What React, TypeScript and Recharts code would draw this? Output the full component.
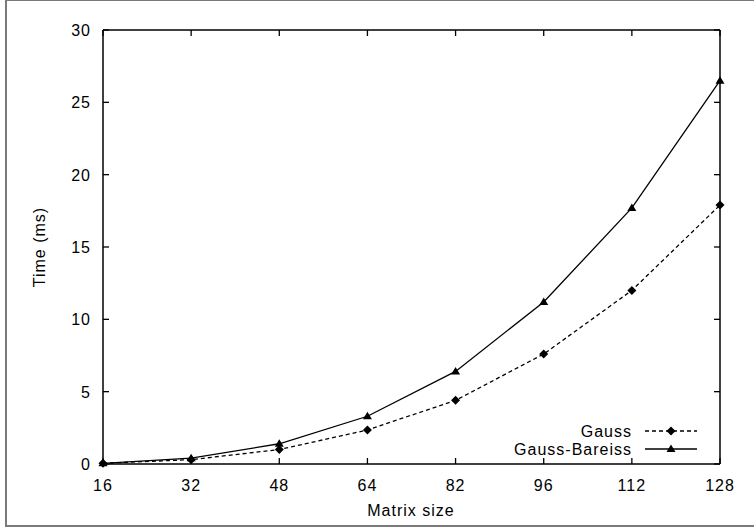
import React from "react";
import { Customized, Line, LineChart, XAxis, YAxis } from "recharts";

const sizes = ["16", "32", "48", "64", "82", "96", "112", "128"];
const gauss = [0.05, 0.3, 1.0, 2.35, 4.4, 7.6, 12.0, 17.9];
const bareiss = [0.05, 0.4, 1.4, 3.3, 6.4, 11.2, 17.7, 26.5];
const yTicks = [0, 5, 10, 15, 20, 25, 30];

const data = sizes.map((size, i) => ({ size, gauss: gauss[i], bareiss: bareiss[i] }));

const FONT = "'Liberation Sans', Arial, Helvetica, sans-serif";
const textStyle = { fontFamily: FONT, fontSize: 16, letterSpacing: 1, fill: "#000" };

function Diamond({ cx, cy }: any) {
  if (cx == null || cy == null) return null;
  return <path d={`M${cx},${cy - 4.5}L${cx + 4.5},${cy}L${cx},${cy + 4.5}L${cx - 4.5},${cy}Z`} fill="#000" />;
}

function Triangle({ cx, cy }: any) {
  if (cx == null || cy == null) return null;
  return <path d={`M${cx},${cy - 4.5}L${cx + 4.5},${cy + 3}L${cx - 4.5},${cy + 3}Z`} fill="#000" />;
}

const BottomTick = ({ x, y, payload }: any) => (
  <g>
    <line x1={x} y1={y} x2={x} y2={y - 6} stroke="#000" strokeWidth={1.3} />
    <text x={x} y={y + 27} textAnchor="middle" style={textStyle}>
      {payload.value}
    </text>
  </g>
);

const LeftTick = ({ x, y, payload }: any) => (
  <g>
    <line x1={x} y1={y} x2={x + 6} y2={y} stroke="#000" strokeWidth={1.3} />
    <text x={x - 12} y={y + 6} textAnchor="end" style={textStyle}>
      {payload.value}
    </text>
  </g>
);

// frame, mirrored ticks, titles and key, drawn from the chart's own offset
function Decorations(props: any) {
  const off = props.offset || { left: 103, top: 30, width: 617, height: 434 };
  const left = off.left;
  const top = off.top;
  const right = off.left + off.width;
  const bottom = off.top + off.height;
  const step = off.width / (sizes.length - 1);
  const yStep = off.height / (yTicks.length - 1);
  return (
    <g>
      <line x1={left} y1={top} x2={right} y2={top} stroke="#000" strokeWidth={1.5} />
      <line x1={right} y1={top} x2={right} y2={bottom} stroke="#000" strokeWidth={1.5} />
      {sizes.map((s, i) => (
        <line key={s} x1={left + i * step} y1={top} x2={left + i * step} y2={top + 6} stroke="#000" strokeWidth={1.3} />
      ))}
      {yTicks.map((t, i) => (
        <line key={t} x1={right} y1={bottom - i * yStep} x2={right - 6} y2={bottom - i * yStep} stroke="#000" strokeWidth={1.3} />
      ))}
      <text x={45} y={247} transform="rotate(-90 45 247)" textAnchor="middle" style={textStyle}>
        Time (ms)
      </text>
      <text x={411} y={516} textAnchor="middle" style={textStyle}>
        Matrix size
      </text>
      <text x={632} y={437} textAnchor="end" style={textStyle}>
        Gauss
      </text>
      <line x1={645} y1={431} x2={697} y2={431} stroke="#000" strokeWidth={1.3} strokeDasharray="4 3" />
      <Diamond cx={671} cy={431} />
      <text x={632} y={455} textAnchor="end" style={textStyle}>
        Gauss-Bareiss
      </text>
      <line x1={645} y1={449} x2={697} y2={449} stroke="#000" strokeWidth={1.3} />
      <Triangle cx={671} cy={449} />
    </g>
  );
}

export default function App() {
  return (
    <div style={{ position: "absolute", left: 0, top: 0, width: 754, height: 529, overflow: "hidden", background: "#fff" }}>
      <LineChart width={754} height={529} data={data} margin={{ top: 30, right: 34, bottom: 20, left: 43 }}>
        <XAxis
          dataKey="size"
          interval={0}
          tickSize={0}
          tickMargin={0}
          height={45}
          tick={<BottomTick />}
          axisLine={{ stroke: "#000", strokeWidth: 1.5 }}
        />
        <YAxis
          domain={[0, 30]}
          ticks={yTicks}
          tickSize={0}
          tickMargin={0}
          width={60}
          tick={<LeftTick />}
          axisLine={{ stroke: "#000", strokeWidth: 1.5 }}
        />
        <Line
          dataKey="gauss"
          stroke="#000"
          strokeWidth={1.3}
          strokeDasharray="4 3"
          dot={<Diamond />}
          activeDot={false}
          isAnimationActive={false}
        />
        <Line
          dataKey="bareiss"
          stroke="#000"
          strokeWidth={1.3}
          dot={<Triangle />}
          activeDot={false}
          isAnimationActive={false}
        />
        <Customized component={<Decorations />} />
      </LineChart>
      <div
        style={{
          position: "absolute",
          left: 5,
          top: -1,
          width: 900,
          height: 528,
          boxSizing: "border-box",
          border: "2px solid #7a7a7a",
          pointerEvents: "none",
        }}
      />
    </div>
  );
}
